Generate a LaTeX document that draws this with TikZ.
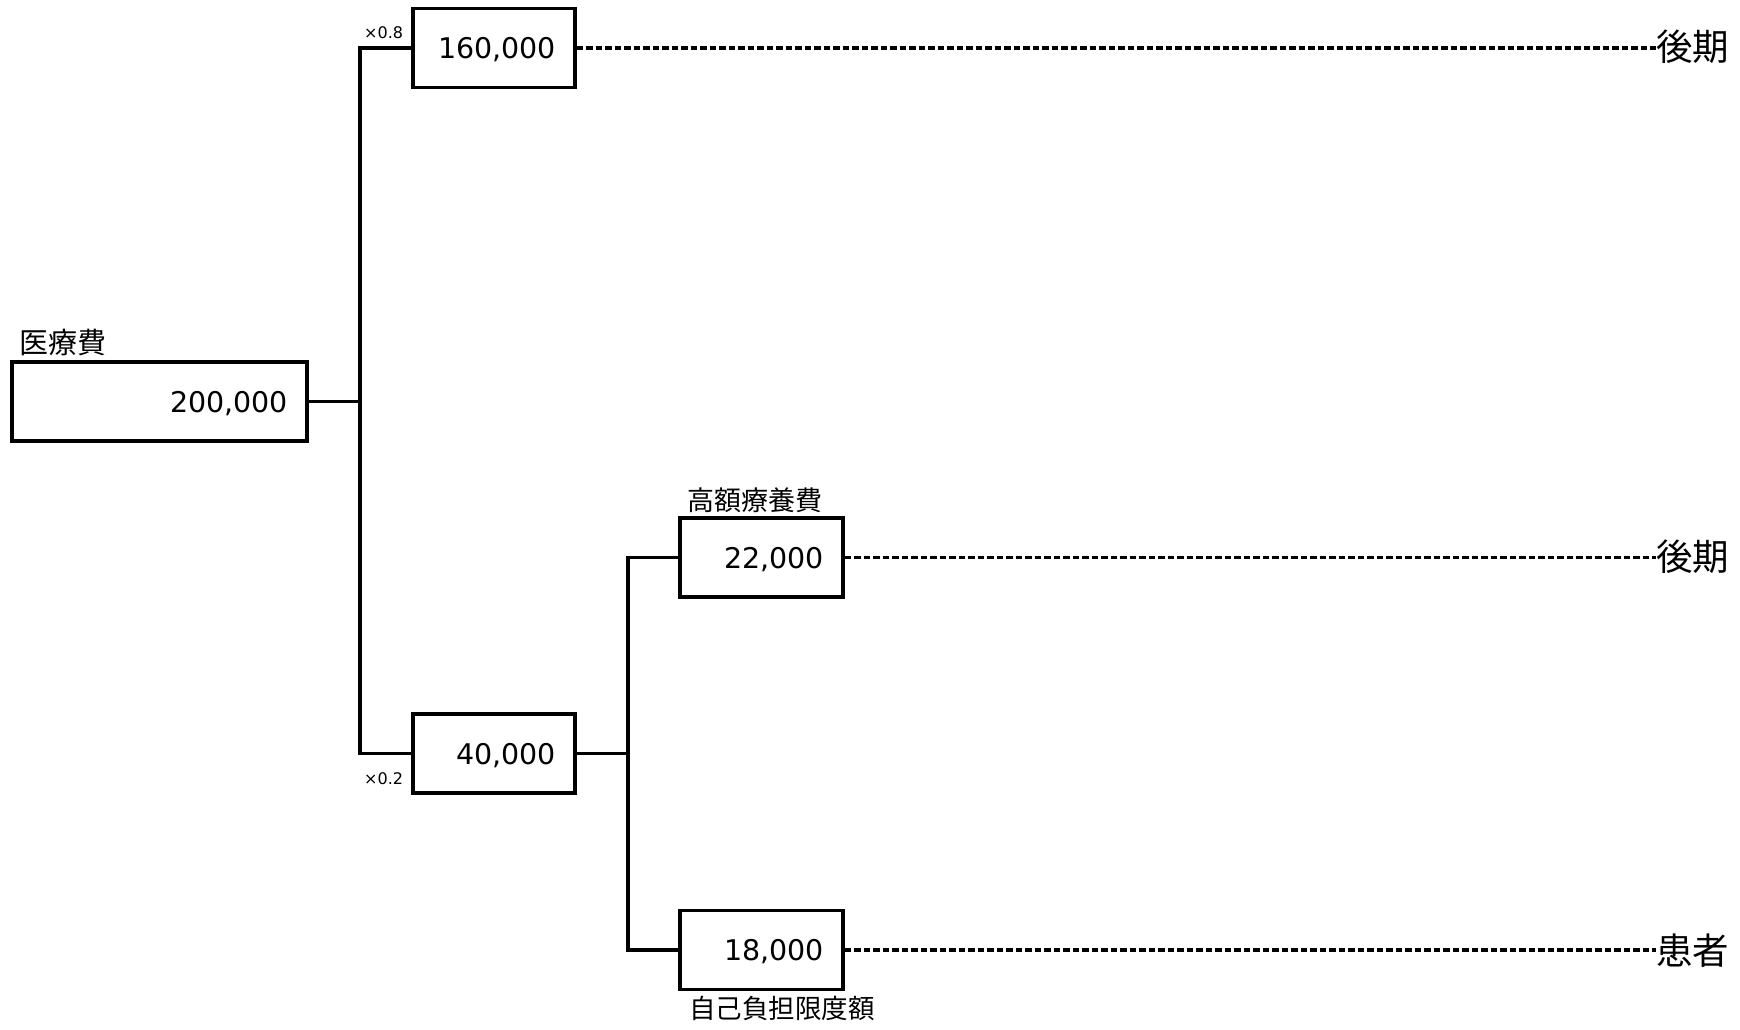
\documentclass[tikz,border=0pt]{standalone}
\usepackage{fontspec}
\setmainfont{DejaVu Sans}
\newfontfamily\jp{Noto Sans CJK JP}
\begin{document}
\begin{tikzpicture}[x=1pt,y=-1pt,
  numbox/.style={draw, line width=3.2pt, inner xsep=19pt, inner ysep=0pt,
    align=right, minimum height=79pt, text depth=0pt,
    font=\fontsize{28.5}{30}\selectfont},
  conn/.style={line width=3.2pt},
  dashconn/.style={line width=3.2pt, dash pattern=on 6.5pt off 3pt},
  lbl/.style={inner sep=0pt, anchor=west},
  dest/.style={inner sep=0pt, anchor=west, font=\jp\fontsize{36.5}{40}\selectfont},
  mult/.style={inner sep=0pt, anchor=west, font=\fontsize{16}{18}\selectfont}]
\useasboundingbox (0,0) rectangle (1740,1029);

\node[numbox, text width=257pt] (A) at (159.5,401.5) {200,000};
\node[numbox, text width=124pt] (B) at (494,48) {160,000};
\node[numbox, text width=124pt] (C) at (494,753.5) {40,000};
\node[numbox, text width=125pt] (D) at (761.5,557.5) {22,000};
\node[numbox, text width=125pt] (E) at (761.5,950) {18,000};

\node[lbl, font=\jp\fontsize{29}{31}\selectfont] (lA) at (19,343) {医療費};
\node[lbl, font=\jp\fontsize{27}{30}\selectfont] (lD) at (687,500) {高額療養費};
\node[lbl, font=\jp\fontsize{26.5}{30}\selectfont] (lE) at (689,1008) {自己負担限度額};

\node[mult] (m1) at (364,33) {×0.8};
\node[mult] (m2) at (364,779) {×0.2};

\node[dest] (d1) at (1656,47) {後期};
\node[dest] (d2) at (1656,557) {後期};
\node[dest] (d3) at (1656,951) {患者};

\coordinate (j1) at (360,401.5);
\coordinate (j2) at (628,753.5);

\draw[conn] (A.east) -- (j1);
\draw[conn] (B.west) -| (j1) |- (C.west);
\draw[conn] (C.east) -- (j2);
\draw[conn] (D.west) -| (j2) |- (E.west);

\draw[dashconn] (B.east) -- (B.east -| d1.west) coordinate (e1);
\draw[dashconn] (D.east) -- (D.east -| d2.west) coordinate (e2);
\draw[dashconn] (E.east) -- (E.east -| d3.west) coordinate (e3);
\end{tikzpicture}
\end{document}
